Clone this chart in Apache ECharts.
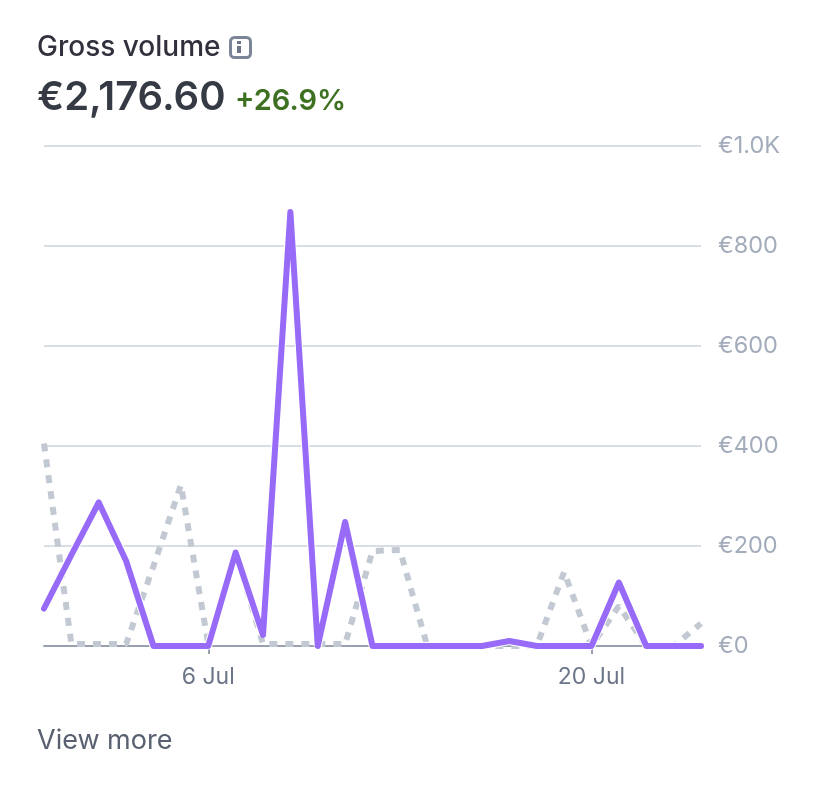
<!DOCTYPE html>
<html>
<head>
<meta charset="utf-8">
<style>
  html, body { margin: 0; padding: 0; background: #fff; }
  #main { width: 830px; height: 802px; }
</style>
<script src="https://cdn.jsdelivr.net/npm/echarts@6/dist/echarts.min.js"></script>
</head>
<body>
<div id="main"></div>
<script>
const days = ['30 Jun', '1 Jul', '2 Jul', '3 Jul', '4 Jul', '5 Jul', '6 Jul', '7 Jul', '8 Jul', '9 Jul',
  '10 Jul', '11 Jul', '12 Jul', '13 Jul', '14 Jul', '15 Jul', '16 Jul', '17 Jul', '18 Jul', '19 Jul',
  '20 Jul', '21 Jul', '22 Jul', '23 Jul', '24 Jul'];
const current = [75, 182, 287, 170, 0, 0, 0, 187, 22, 868, 0, 248, 0, 0, 0, 0, 0, 10, 0, 0, 0, 127, 0, 0, 0];
const previous = [405, 4, 4, 4, 160, 322, 4, 187, 4, 4, 4, 4, 190, 192, 0, 0, 0, 0, 0, 148, 0, 80, 0, 0, 45];
const tickDays = ['6 Jul', '20 Jul'];

const font = 'Inter, "Noto Sans", sans-serif';
const myChart = echarts.init(document.getElementById('main'));

const option = {
  animation: false,
  backgroundColor: '#fff',
  grid: { left: 44, right: 129, top: 146, bottom: 156 },
  xAxis: {
    type: 'category',
    data: days,
    boundaryGap: false,
    axisLine: { lineStyle: { color: '#99a1b1', width: 2 } },
    axisTick: {
      interval: (i, name) => tickDays.includes(name),
      length: 8,
      lineStyle: { color: '#99a1b1', width: 2 }
    },
    axisLabel: {
      interval: (i, name) => tickDays.includes(name),
      color: '#6c7688',
      fontFamily: font,
      fontSize: 23,
      margin: 20
    },
    splitLine: { show: false }
  },
  yAxis: {
    type: 'value',
    position: 'right',
    min: 0,
    max: 1000,
    interval: 200,
    axisLine: { show: false },
    axisTick: { show: false },
    axisLabel: {
      color: '#a3acba',
      fontFamily: font,
      fontSize: 23.5,
      margin: 17,
      padding: [8, 0, 0, 0],
      formatter: v => v >= 1000 ? '€' + (v / 1000).toFixed(1) + 'K' : '€' + v
    },
    splitLine: { lineStyle: { color: '#d8dee4', width: 2 } }
  },
  series: [
    {
      name: 'Previous period',
      type: 'line',
      data: previous,
      symbol: 'none',
      lineStyle: { color: '#c3c9d3', width: 6, type: [8, 8] },
      z: 2
    },
    {
      // white halo under the main line
      name: 'Halo',
      type: 'line',
      data: current,
      symbol: 'none',
      lineStyle: { color: '#fff', width: 8 },
      z: 3
    },
    {
      name: 'Gross volume',
      type: 'line',
      data: current,
      symbol: 'none',
      lineStyle: { color: '#976bf7', width: 6, cap: 'round', join: 'round' },
      z: 4
    }
  ],
  graphic: [
    { type: 'text', left: 37, top: 34, style: { text: 'Gross volume', font: '500 28px ' + font, fill: '#30313d' } },
    { type: 'rect', left: 229, top: 36, shape: { width: 20, height: 20, r: 4 }, style: { fill: '#fff', stroke: '#7c8597', lineWidth: 3 } },
    { type: 'rect', left: 237, top: 41, shape: { width: 4, height: 3 }, style: { fill: '#6c7688' } },
    { type: 'rect', left: 237, top: 46, shape: { width: 4, height: 7 }, style: { fill: '#6c7688' } },
    { type: 'text', left: 37, top: 78, style: { text: '€2,176.60', font: '600 40px ' + font, fill: '#353a44' } },
    { type: 'text', left: 235, top: 87, style: { text: '+26.9%', font: '600 29px ' + font, fill: '#3d7020' } },
    { type: 'text', left: 37, top: 727, style: { text: 'View more', font: '400 27px ' + font, fill: '#596171' } }
  ]
};

myChart.setOption(option);
</script>
</body>
</html>
